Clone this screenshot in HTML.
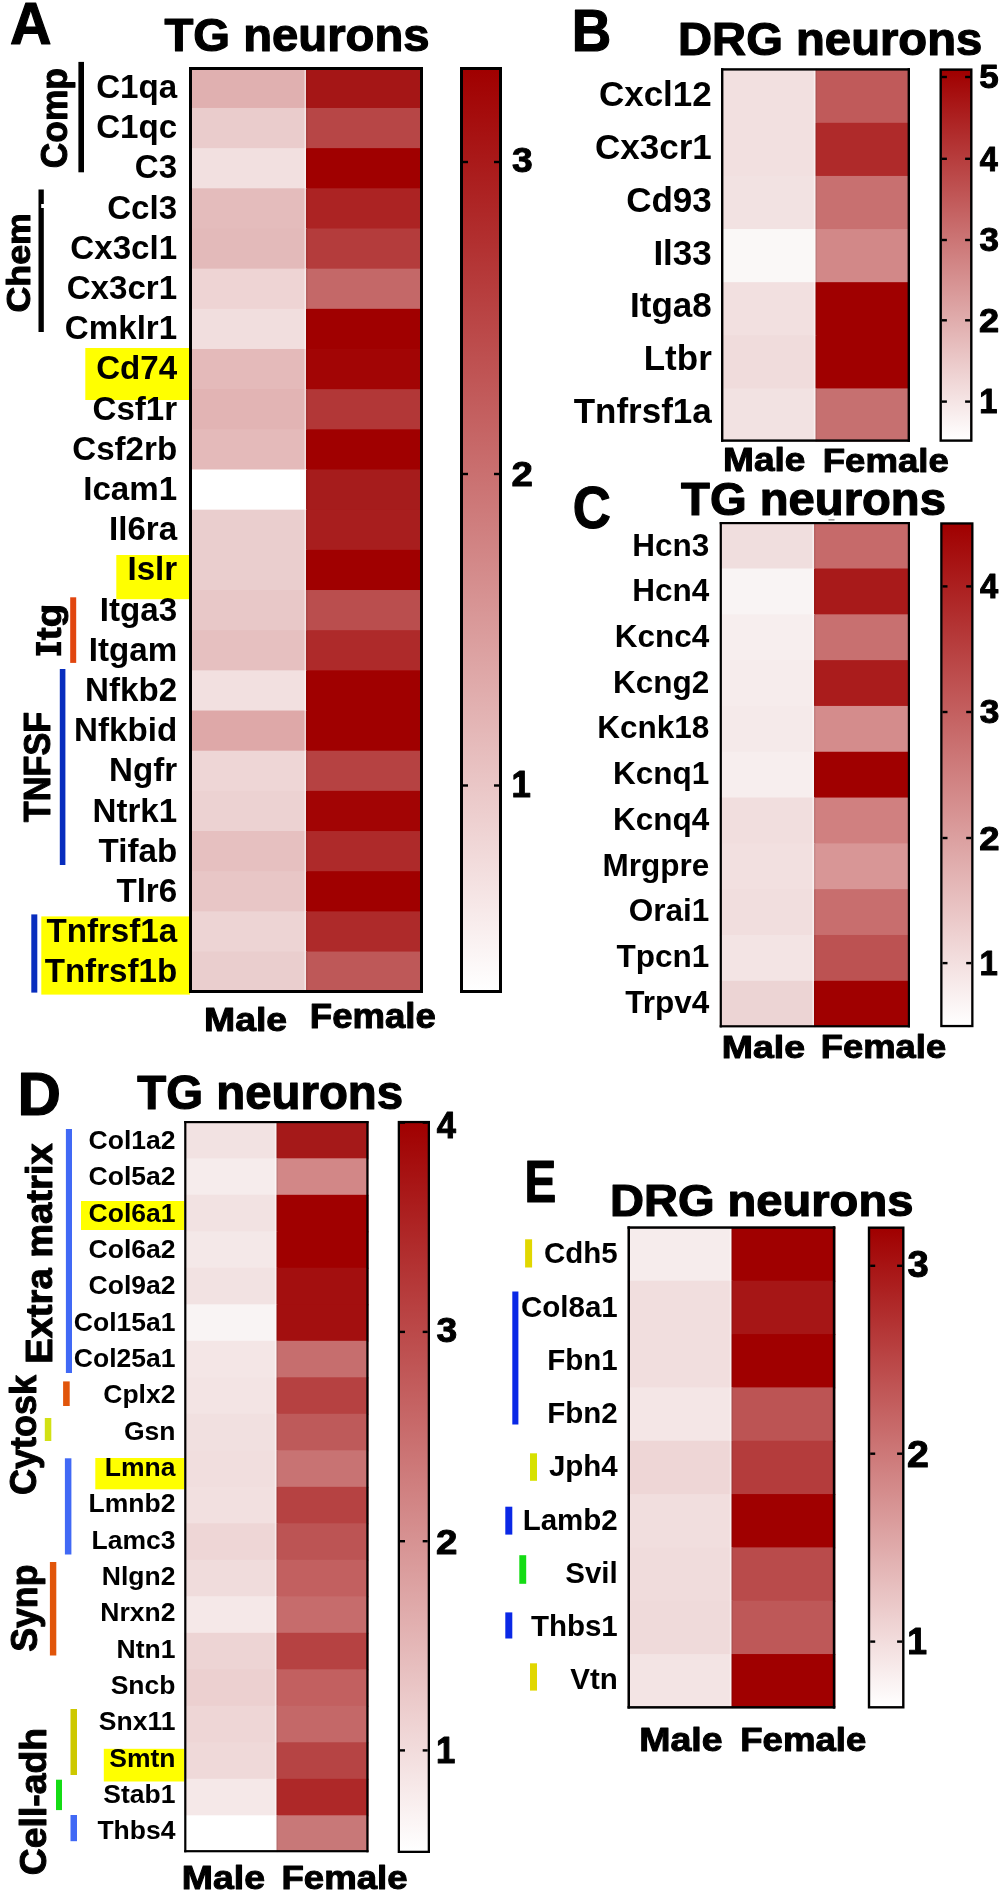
<!DOCTYPE html>
<html><head><meta charset="utf-8"><style>
html,body{margin:0;padding:0;background:#fff;}
body{width:1003px;height:1894px;overflow:hidden;}
svg{display:block;}
text{font-family:"Liberation Sans",sans-serif;font-weight:bold;}
</style></head><body>
<svg width="1003" height="1894" viewBox="0 0 1003 1894" font-family="Liberation Sans, sans-serif" font-weight="bold">
<rect x="0.00" y="0.00" width="1003.00" height="1894.00" fill="#fff"/>
<rect x="85.30" y="348.00" width="104.70" height="52.00" fill="#ffff00"/>
<rect x="116.30" y="555.00" width="73.70" height="44.20" fill="#ffff00"/>
<rect x="41.30" y="916.40" width="148.70" height="78.20" fill="#ffff00"/>
<rect x="189.00" y="67.80" width="118.00" height="41.17" fill="rgb(224,176,176)"/>
<rect x="306.00" y="67.80" width="117.00" height="41.17" fill="rgb(165,22,22)"/>
<rect x="189.00" y="107.97" width="118.00" height="41.17" fill="rgb(234,204,204)"/>
<rect x="306.00" y="107.97" width="117.00" height="41.17" fill="rgb(183,70,70)"/>
<rect x="189.00" y="148.14" width="118.00" height="41.17" fill="rgb(242,224,224)"/>
<rect x="306.00" y="148.14" width="117.00" height="41.17" fill="rgb(160,0,0)"/>
<rect x="189.00" y="188.31" width="118.00" height="41.17" fill="rgb(228,188,188)"/>
<rect x="306.00" y="188.31" width="117.00" height="41.17" fill="rgb(172,35,35)"/>
<rect x="189.00" y="228.48" width="118.00" height="41.17" fill="rgb(227,186,186)"/>
<rect x="306.00" y="228.48" width="117.00" height="41.17" fill="rgb(180,60,60)"/>
<rect x="189.00" y="268.65" width="118.00" height="41.17" fill="rgb(238,212,212)"/>
<rect x="306.00" y="268.65" width="117.00" height="41.17" fill="rgb(196,104,104)"/>
<rect x="189.00" y="308.82" width="118.00" height="41.17" fill="rgb(241,222,222)"/>
<rect x="306.00" y="308.82" width="117.00" height="41.17" fill="rgb(160,0,0)"/>
<rect x="189.00" y="348.99" width="118.00" height="41.17" fill="rgb(228,186,186)"/>
<rect x="306.00" y="348.99" width="117.00" height="41.17" fill="rgb(162,5,5)"/>
<rect x="189.00" y="389.16" width="118.00" height="41.17" fill="rgb(226,180,180)"/>
<rect x="306.00" y="389.16" width="117.00" height="41.17" fill="rgb(178,55,55)"/>
<rect x="189.00" y="429.33" width="118.00" height="41.17" fill="rgb(228,186,186)"/>
<rect x="306.00" y="429.33" width="117.00" height="41.17" fill="rgb(160,0,0)"/>
<rect x="189.00" y="469.50" width="118.00" height="41.17" fill="rgb(255,255,255)"/>
<rect x="306.00" y="469.50" width="117.00" height="41.17" fill="rgb(166,28,28)"/>
<rect x="189.00" y="509.67" width="118.00" height="41.17" fill="rgb(234,206,206)"/>
<rect x="306.00" y="509.67" width="117.00" height="41.17" fill="rgb(168,30,30)"/>
<rect x="189.00" y="549.84" width="118.00" height="41.17" fill="rgb(234,206,206)"/>
<rect x="306.00" y="549.84" width="117.00" height="41.17" fill="rgb(160,0,0)"/>
<rect x="189.00" y="590.01" width="118.00" height="41.17" fill="rgb(232,200,200)"/>
<rect x="306.00" y="590.01" width="117.00" height="41.17" fill="rgb(186,78,78)"/>
<rect x="189.00" y="630.18" width="118.00" height="41.17" fill="rgb(230,192,192)"/>
<rect x="306.00" y="630.18" width="117.00" height="41.17" fill="rgb(174,42,42)"/>
<rect x="189.00" y="670.35" width="118.00" height="41.17" fill="rgb(242,224,224)"/>
<rect x="306.00" y="670.35" width="117.00" height="41.17" fill="rgb(160,0,0)"/>
<rect x="189.00" y="710.52" width="118.00" height="41.17" fill="rgb(222,168,168)"/>
<rect x="306.00" y="710.52" width="117.00" height="41.17" fill="rgb(160,0,0)"/>
<rect x="189.00" y="750.69" width="118.00" height="41.17" fill="rgb(238,214,214)"/>
<rect x="306.00" y="750.69" width="117.00" height="41.17" fill="rgb(182,66,66)"/>
<rect x="189.00" y="790.86" width="118.00" height="41.17" fill="rgb(236,210,210)"/>
<rect x="306.00" y="790.86" width="117.00" height="41.17" fill="rgb(162,4,4)"/>
<rect x="189.00" y="831.03" width="118.00" height="41.17" fill="rgb(230,192,192)"/>
<rect x="306.00" y="831.03" width="117.00" height="41.17" fill="rgb(174,42,42)"/>
<rect x="189.00" y="871.20" width="118.00" height="41.17" fill="rgb(232,198,198)"/>
<rect x="306.00" y="871.20" width="117.00" height="41.17" fill="rgb(160,0,0)"/>
<rect x="189.00" y="911.37" width="118.00" height="41.17" fill="rgb(237,212,212)"/>
<rect x="306.00" y="911.37" width="117.00" height="41.17" fill="rgb(174,42,42)"/>
<rect x="189.00" y="951.54" width="118.00" height="40.17" fill="rgb(234,206,206)"/>
<rect x="306.00" y="951.54" width="117.00" height="40.17" fill="rgb(190,88,88)"/>
<rect x="304.40" y="67.00" width="1.6" height="926.00" fill="#fff" opacity="0.5"/>
<rect x="306.00" y="67.00" width="1.6" height="926.00" fill="#000" opacity="0.07"/>
<rect x="189.00" y="67.00" width="234.00" height="3.00" fill="#000"/>
<rect x="189.00" y="990.00" width="234.00" height="3.00" fill="#000"/>
<rect x="189.00" y="67.00" width="3.00" height="926.00" fill="#000"/>
<rect x="420.00" y="67.00" width="3.00" height="926.00" fill="#000"/>
<defs><linearGradient id="g1" x1="0" y1="0" x2="0" y2="1"><stop offset="0" stop-color="rgb(160,0,0)"/><stop offset="1" stop-color="rgb(255,255,255)"/></linearGradient></defs>
<rect x="460.00" y="67.00" width="42.00" height="926.00" fill="#000"/>
<rect x="463.00" y="70.00" width="36.00" height="920.00" fill="url(#g1)"/>
<rect x="463.00" y="160.80" width="5.00" height="2.40" fill="#000"/>
<rect x="494.00" y="160.80" width="5.00" height="2.40" fill="#000"/>
<rect x="463.00" y="472.80" width="5.00" height="2.40" fill="#000"/>
<rect x="494.00" y="472.80" width="5.00" height="2.40" fill="#000"/>
<rect x="463.00" y="784.30" width="5.00" height="2.40" fill="#000"/>
<rect x="494.00" y="784.30" width="5.00" height="2.40" fill="#000"/>
<rect x="78.40" y="61.90" width="5.60" height="110.40" fill="#000"/>
<rect x="38.50" y="189.50" width="5.30" height="142.50" fill="#000"/>
<rect x="41.20" y="204.00" width="2.80" height="4.00" fill="#fff"/>
<rect x="70.20" y="597.30" width="6.00" height="65.60" fill="rgb(225,70,15)"/>
<rect x="59.80" y="669.00" width="5.60" height="196.00" fill="rgb(8,45,190)"/>
<rect x="31.30" y="914.40" width="6.00" height="78.20" fill="rgb(8,45,190)"/>
<rect x="35.90" y="642.00" width="4.50" height="13.60" fill="#000"/>
<rect x="56.70" y="642.00" width="4.50" height="13.60" fill="#000"/>
<rect x="40.00" y="645.60" width="17.00" height="6.40" fill="#000"/>
<rect x="721.00" y="69.70" width="95.40" height="54.12" fill="rgb(242,224,224)"/>
<rect x="815.40" y="69.70" width="94.60" height="54.12" fill="rgb(192,90,90)"/>
<rect x="721.00" y="122.82" width="95.40" height="54.12" fill="rgb(242,224,224)"/>
<rect x="815.40" y="122.82" width="94.60" height="54.12" fill="rgb(175,42,42)"/>
<rect x="721.00" y="175.94" width="95.40" height="54.12" fill="rgb(242,226,226)"/>
<rect x="815.40" y="175.94" width="94.60" height="54.12" fill="rgb(200,112,112)"/>
<rect x="721.00" y="229.06" width="95.40" height="54.12" fill="rgb(250,248,247)"/>
<rect x="815.40" y="229.06" width="94.60" height="54.12" fill="rgb(210,136,136)"/>
<rect x="721.00" y="282.18" width="95.40" height="54.12" fill="rgb(242,224,224)"/>
<rect x="815.40" y="282.18" width="94.60" height="54.12" fill="rgb(160,0,0)"/>
<rect x="721.00" y="335.30" width="95.40" height="54.12" fill="rgb(240,220,220)"/>
<rect x="815.40" y="335.30" width="94.60" height="54.12" fill="rgb(160,0,0)"/>
<rect x="721.00" y="388.42" width="95.40" height="53.12" fill="rgb(242,226,226)"/>
<rect x="815.40" y="388.42" width="94.60" height="53.12" fill="rgb(198,112,112)"/>
<rect x="813.80" y="68.20" width="1.6" height="373.60" fill="#fff" opacity="0.5"/>
<rect x="815.40" y="68.20" width="1.6" height="373.60" fill="#000" opacity="0.07"/>
<rect x="721.00" y="68.20" width="189.00" height="2.40" fill="#000"/>
<rect x="721.00" y="439.40" width="189.00" height="2.40" fill="#000"/>
<rect x="721.00" y="68.20" width="2.40" height="373.60" fill="#000"/>
<rect x="907.60" y="68.20" width="2.40" height="373.60" fill="#000"/>
<defs><linearGradient id="g2" x1="0" y1="0" x2="0" y2="1"><stop offset="0" stop-color="rgb(160,0,0)"/><stop offset="1" stop-color="rgb(255,255,255)"/></linearGradient></defs>
<rect x="939.50" y="68.40" width="33.00" height="373.40" fill="#000"/>
<rect x="941.90" y="70.80" width="28.20" height="368.60" fill="url(#g2)"/>
<rect x="941.90" y="75.80" width="5.00" height="2.40" fill="#000"/>
<rect x="965.10" y="75.80" width="5.00" height="2.40" fill="#000"/>
<rect x="941.90" y="157.60" width="5.00" height="2.40" fill="#000"/>
<rect x="965.10" y="157.60" width="5.00" height="2.40" fill="#000"/>
<rect x="941.90" y="238.80" width="5.00" height="2.40" fill="#000"/>
<rect x="965.10" y="238.80" width="5.00" height="2.40" fill="#000"/>
<rect x="941.90" y="319.10" width="5.00" height="2.40" fill="#000"/>
<rect x="965.10" y="319.10" width="5.00" height="2.40" fill="#000"/>
<rect x="941.90" y="400.40" width="5.00" height="2.40" fill="#000"/>
<rect x="965.10" y="400.40" width="5.00" height="2.40" fill="#000"/>
<rect x="719.70" y="522.70" width="95.30" height="46.81" fill="rgb(240,222,222)"/>
<rect x="814.00" y="522.70" width="96.00" height="46.81" fill="rgb(198,106,106)"/>
<rect x="719.70" y="568.51" width="95.30" height="46.81" fill="rgb(249,244,244)"/>
<rect x="814.00" y="568.51" width="96.00" height="46.81" fill="rgb(168,26,26)"/>
<rect x="719.70" y="614.32" width="95.30" height="46.81" fill="rgb(247,238,238)"/>
<rect x="814.00" y="614.32" width="96.00" height="46.81" fill="rgb(200,112,112)"/>
<rect x="719.70" y="660.13" width="95.30" height="46.81" fill="rgb(246,236,236)"/>
<rect x="814.00" y="660.13" width="96.00" height="46.81" fill="rgb(170,28,28)"/>
<rect x="719.70" y="705.94" width="95.30" height="46.81" fill="rgb(245,234,234)"/>
<rect x="814.00" y="705.94" width="96.00" height="46.81" fill="rgb(212,140,140)"/>
<rect x="719.70" y="751.75" width="95.30" height="46.81" fill="rgb(247,238,238)"/>
<rect x="814.00" y="751.75" width="96.00" height="46.81" fill="rgb(160,0,0)"/>
<rect x="719.70" y="797.56" width="95.30" height="46.81" fill="rgb(241,222,222)"/>
<rect x="814.00" y="797.56" width="96.00" height="46.81" fill="rgb(208,128,128)"/>
<rect x="719.70" y="843.37" width="95.30" height="46.81" fill="rgb(242,224,224)"/>
<rect x="814.00" y="843.37" width="96.00" height="46.81" fill="rgb(216,150,150)"/>
<rect x="719.70" y="889.18" width="95.30" height="46.81" fill="rgb(241,222,222)"/>
<rect x="814.00" y="889.18" width="96.00" height="46.81" fill="rgb(200,110,110)"/>
<rect x="719.70" y="934.99" width="95.30" height="46.81" fill="rgb(243,228,228)"/>
<rect x="814.00" y="934.99" width="96.00" height="46.81" fill="rgb(188,82,82)"/>
<rect x="719.70" y="980.80" width="95.30" height="45.81" fill="rgb(236,212,212)"/>
<rect x="814.00" y="980.80" width="96.00" height="45.81" fill="rgb(160,0,0)"/>
<rect x="812.40" y="522.00" width="1.6" height="505.40" fill="#fff" opacity="0.5"/>
<rect x="814.00" y="522.00" width="1.6" height="505.40" fill="#000" opacity="0.07"/>
<rect x="719.70" y="522.00" width="190.30" height="2.20" fill="#000"/>
<rect x="719.70" y="1025.20" width="190.30" height="2.20" fill="#000"/>
<rect x="719.70" y="522.00" width="2.20" height="505.40" fill="#000"/>
<rect x="907.80" y="522.00" width="2.20" height="505.40" fill="#000"/>
<defs><linearGradient id="g3" x1="0" y1="0" x2="0" y2="1"><stop offset="0" stop-color="rgb(160,0,0)"/><stop offset="1" stop-color="rgb(255,255,255)"/></linearGradient></defs>
<rect x="940.20" y="522.30" width="33.30" height="504.90" fill="#000"/>
<rect x="942.50" y="524.60" width="28.70" height="500.30" fill="url(#g3)"/>
<rect x="942.50" y="585.20" width="5.00" height="2.40" fill="#000"/>
<rect x="966.20" y="585.20" width="5.00" height="2.40" fill="#000"/>
<rect x="942.50" y="710.80" width="5.00" height="2.40" fill="#000"/>
<rect x="966.20" y="710.80" width="5.00" height="2.40" fill="#000"/>
<rect x="942.50" y="836.80" width="5.00" height="2.40" fill="#000"/>
<rect x="966.20" y="836.80" width="5.00" height="2.40" fill="#000"/>
<rect x="942.50" y="961.90" width="5.00" height="2.40" fill="#000"/>
<rect x="966.20" y="961.90" width="5.00" height="2.40" fill="#000"/>
<rect x="828.50" y="519.00" width="6.00" height="1.60" fill="rgb(150,150,150)"/>
<rect x="81.00" y="1201.00" width="104.00" height="29.00" fill="#ffff00"/>
<rect x="95.30" y="1458.00" width="89.70" height="31.30" fill="#ffff00"/>
<rect x="103.80" y="1748.80" width="81.20" height="32.70" fill="#ffff00"/>
<rect x="184.20" y="1121.80" width="93.20" height="37.50" fill="rgb(242,226,226)"/>
<rect x="276.40" y="1121.80" width="92.10" height="37.50" fill="rgb(165,25,25)"/>
<rect x="184.20" y="1158.30" width="93.20" height="37.50" fill="rgb(246,236,236)"/>
<rect x="276.40" y="1158.30" width="92.10" height="37.50" fill="rgb(210,135,135)"/>
<rect x="184.20" y="1194.80" width="93.20" height="37.50" fill="rgb(242,226,226)"/>
<rect x="276.40" y="1194.80" width="92.10" height="37.50" fill="rgb(160,0,0)"/>
<rect x="184.20" y="1231.30" width="93.20" height="37.50" fill="rgb(244,232,232)"/>
<rect x="276.40" y="1231.30" width="92.10" height="37.50" fill="rgb(160,0,0)"/>
<rect x="184.20" y="1267.80" width="93.20" height="37.50" fill="rgb(242,226,226)"/>
<rect x="276.40" y="1267.80" width="92.10" height="37.50" fill="rgb(163,15,15)"/>
<rect x="184.20" y="1304.30" width="93.20" height="37.50" fill="rgb(249,244,244)"/>
<rect x="276.40" y="1304.30" width="92.10" height="37.50" fill="rgb(163,15,15)"/>
<rect x="184.20" y="1340.80" width="93.20" height="37.50" fill="rgb(244,230,230)"/>
<rect x="276.40" y="1340.80" width="92.10" height="37.50" fill="rgb(198,110,110)"/>
<rect x="184.20" y="1377.30" width="93.20" height="37.50" fill="rgb(243,228,228)"/>
<rect x="276.40" y="1377.30" width="92.10" height="37.50" fill="rgb(182,65,65)"/>
<rect x="184.20" y="1413.80" width="93.20" height="37.50" fill="rgb(241,224,224)"/>
<rect x="276.40" y="1413.80" width="92.10" height="37.50" fill="rgb(190,90,90)"/>
<rect x="184.20" y="1450.30" width="93.20" height="37.50" fill="rgb(241,222,222)"/>
<rect x="276.40" y="1450.30" width="92.10" height="37.50" fill="rgb(200,115,115)"/>
<rect x="184.20" y="1486.80" width="93.20" height="37.50" fill="rgb(242,224,224)"/>
<rect x="276.40" y="1486.80" width="92.10" height="37.50" fill="rgb(182,66,66)"/>
<rect x="184.20" y="1523.30" width="93.20" height="37.50" fill="rgb(238,214,214)"/>
<rect x="276.40" y="1523.30" width="92.10" height="37.50" fill="rgb(188,84,84)"/>
<rect x="184.20" y="1559.80" width="93.20" height="37.50" fill="rgb(240,220,220)"/>
<rect x="276.40" y="1559.80" width="92.10" height="37.50" fill="rgb(194,96,96)"/>
<rect x="184.20" y="1596.30" width="93.20" height="37.50" fill="rgb(245,232,232)"/>
<rect x="276.40" y="1596.30" width="92.10" height="37.50" fill="rgb(198,108,108)"/>
<rect x="184.20" y="1632.80" width="93.20" height="37.50" fill="rgb(237,212,212)"/>
<rect x="276.40" y="1632.80" width="92.10" height="37.50" fill="rgb(182,66,66)"/>
<rect x="184.20" y="1669.30" width="93.20" height="37.50" fill="rgb(236,208,208)"/>
<rect x="276.40" y="1669.30" width="92.10" height="37.50" fill="rgb(194,96,96)"/>
<rect x="184.20" y="1705.80" width="93.20" height="37.50" fill="rgb(238,214,214)"/>
<rect x="276.40" y="1705.80" width="92.10" height="37.50" fill="rgb(196,104,104)"/>
<rect x="184.20" y="1742.30" width="93.20" height="37.50" fill="rgb(239,217,217)"/>
<rect x="276.40" y="1742.30" width="92.10" height="37.50" fill="rgb(182,68,68)"/>
<rect x="184.20" y="1778.80" width="93.20" height="37.50" fill="rgb(245,232,232)"/>
<rect x="276.40" y="1778.80" width="92.10" height="37.50" fill="rgb(174,40,40)"/>
<rect x="184.20" y="1815.30" width="93.20" height="36.50" fill="rgb(255,255,255)"/>
<rect x="276.40" y="1815.30" width="92.10" height="36.50" fill="rgb(200,120,120)"/>
<rect x="274.80" y="1121.00" width="1.6" height="731.30" fill="#fff" opacity="0.5"/>
<rect x="276.40" y="1121.00" width="1.6" height="731.30" fill="#000" opacity="0.07"/>
<rect x="184.20" y="1121.00" width="184.30" height="2.20" fill="#000"/>
<rect x="184.20" y="1850.10" width="184.30" height="2.20" fill="#000"/>
<rect x="184.20" y="1121.00" width="2.20" height="731.30" fill="#000"/>
<rect x="366.30" y="1121.00" width="2.20" height="731.30" fill="#000"/>
<defs><linearGradient id="g4" x1="0" y1="0" x2="0" y2="1"><stop offset="0" stop-color="rgb(160,0,0)"/><stop offset="1" stop-color="rgb(255,255,255)"/></linearGradient></defs>
<rect x="397.70" y="1120.90" width="32.30" height="732.10" fill="#000"/>
<rect x="400.00" y="1123.20" width="27.70" height="727.50" fill="url(#g4)"/>
<rect x="400.00" y="1121.40" width="5.00" height="2.40" fill="#000"/>
<rect x="422.70" y="1121.40" width="5.00" height="2.40" fill="#000"/>
<rect x="400.00" y="1330.70" width="5.00" height="2.40" fill="#000"/>
<rect x="422.70" y="1330.70" width="5.00" height="2.40" fill="#000"/>
<rect x="400.00" y="1540.00" width="5.00" height="2.40" fill="#000"/>
<rect x="422.70" y="1540.00" width="5.00" height="2.40" fill="#000"/>
<rect x="400.00" y="1749.20" width="5.00" height="2.40" fill="#000"/>
<rect x="422.70" y="1749.20" width="5.00" height="2.40" fill="#000"/>
<rect x="65.90" y="1129.00" width="6.10" height="244.00" fill="rgb(65,105,245)"/>
<rect x="63.10" y="1381.40" width="6.60" height="24.60" fill="rgb(225,85,10)"/>
<rect x="44.80" y="1418.00" width="6.50" height="23.00" fill="rgb(210,225,20)"/>
<rect x="64.90" y="1458.30" width="6.50" height="96.20" fill="rgb(65,105,245)"/>
<rect x="49.90" y="1562.00" width="6.40" height="93.50" fill="rgb(225,85,10)"/>
<rect x="70.50" y="1709.00" width="6.50" height="66.00" fill="rgb(205,200,0)"/>
<rect x="56.00" y="1779.70" width="6.00" height="30.40" fill="rgb(20,220,20)"/>
<rect x="70.50" y="1815.00" width="6.50" height="26.20" fill="rgb(65,105,245)"/>
<rect x="627.50" y="1227.40" width="104.90" height="54.33" fill="rgb(246,236,236)"/>
<rect x="731.40" y="1227.40" width="103.90" height="54.33" fill="rgb(160,0,0)"/>
<rect x="627.50" y="1280.73" width="104.90" height="54.33" fill="rgb(241,222,222)"/>
<rect x="731.40" y="1280.73" width="103.90" height="54.33" fill="rgb(166,22,22)"/>
<rect x="627.50" y="1334.06" width="104.90" height="54.33" fill="rgb(241,222,222)"/>
<rect x="731.40" y="1334.06" width="103.90" height="54.33" fill="rgb(160,0,0)"/>
<rect x="627.50" y="1387.39" width="104.90" height="54.33" fill="rgb(244,230,230)"/>
<rect x="731.40" y="1387.39" width="103.90" height="54.33" fill="rgb(188,84,84)"/>
<rect x="627.50" y="1440.72" width="104.90" height="54.33" fill="rgb(238,214,214)"/>
<rect x="731.40" y="1440.72" width="103.90" height="54.33" fill="rgb(180,60,60)"/>
<rect x="627.50" y="1494.05" width="104.90" height="54.33" fill="rgb(241,222,222)"/>
<rect x="731.40" y="1494.05" width="103.90" height="54.33" fill="rgb(160,0,0)"/>
<rect x="627.50" y="1547.38" width="104.90" height="54.33" fill="rgb(240,220,220)"/>
<rect x="731.40" y="1547.38" width="103.90" height="54.33" fill="rgb(185,75,75)"/>
<rect x="627.50" y="1600.71" width="104.90" height="54.33" fill="rgb(239,218,218)"/>
<rect x="731.40" y="1600.71" width="103.90" height="54.33" fill="rgb(190,88,88)"/>
<rect x="627.50" y="1654.04" width="104.90" height="53.33" fill="rgb(243,228,228)"/>
<rect x="731.40" y="1654.04" width="103.90" height="53.33" fill="rgb(160,0,0)"/>
<rect x="729.80" y="1226.30" width="1.6" height="482.30" fill="#fff" opacity="0.5"/>
<rect x="731.40" y="1226.30" width="1.6" height="482.30" fill="#000" opacity="0.07"/>
<rect x="627.50" y="1226.30" width="207.80" height="2.50" fill="#000"/>
<rect x="627.50" y="1706.10" width="207.80" height="2.50" fill="#000"/>
<rect x="627.50" y="1226.30" width="2.50" height="482.30" fill="#000"/>
<rect x="832.80" y="1226.30" width="2.50" height="482.30" fill="#000"/>
<defs><linearGradient id="g5" x1="0" y1="0" x2="0" y2="1"><stop offset="0" stop-color="rgb(160,0,0)"/><stop offset="1" stop-color="rgb(255,255,255)"/></linearGradient></defs>
<rect x="867.80" y="1226.50" width="36.70" height="482.00" fill="#000"/>
<rect x="870.20" y="1228.90" width="31.90" height="477.20" fill="url(#g5)"/>
<rect x="870.20" y="1264.60" width="5.00" height="2.40" fill="#000"/>
<rect x="897.10" y="1264.60" width="5.00" height="2.40" fill="#000"/>
<rect x="870.20" y="1452.50" width="5.00" height="2.40" fill="#000"/>
<rect x="897.10" y="1452.50" width="5.00" height="2.40" fill="#000"/>
<rect x="870.20" y="1640.40" width="5.00" height="2.40" fill="#000"/>
<rect x="897.10" y="1640.40" width="5.00" height="2.40" fill="#000"/>
<rect x="525.10" y="1239.30" width="7.00" height="28.20" fill="rgb(225,215,0)"/>
<rect x="512.30" y="1291.50" width="6.10" height="133.00" fill="rgb(10,40,230)"/>
<rect x="530.00" y="1453.30" width="7.00" height="27.50" fill="rgb(215,225,0)"/>
<rect x="505.30" y="1506.70" width="7.00" height="27.90" fill="rgb(10,40,230)"/>
<rect x="519.30" y="1555.20" width="6.90" height="28.60" fill="rgb(20,220,20)"/>
<rect x="505.30" y="1612.40" width="7.00" height="26.10" fill="rgb(10,40,230)"/>
<rect x="530.00" y="1663.30" width="7.00" height="27.30" fill="rgb(225,215,0)"/>
<g style="filter:grayscale(1)">
<text x="511.94" y="172.11" font-size="35.26" stroke="#000" stroke-width="1.0" stroke-linejoin="round" textLength="20.70" lengthAdjust="spacingAndGlyphs">3</text>
<text x="511.45" y="486.00" font-size="35.82" stroke="#000" stroke-width="1.0" stroke-linejoin="round" textLength="21.39" lengthAdjust="spacingAndGlyphs">2</text>
<text x="511.61" y="797.00" font-size="36.34" stroke="#000" stroke-width="1.0" stroke-linejoin="round" textLength="19.33" lengthAdjust="spacingAndGlyphs">1</text>
<text transform="translate(177.18,98.00) scale(0.975,1)" font-size="34.00" text-anchor="end">C1qa</text>
<text transform="translate(177.18,138.20) scale(0.975,1)" font-size="34.00" text-anchor="end">C1qc</text>
<text transform="translate(177.18,178.40) scale(0.975,1)" font-size="34.00" text-anchor="end">C3</text>
<text transform="translate(177.18,218.60) scale(0.975,1)" font-size="34.00" text-anchor="end">Ccl3</text>
<text transform="translate(177.18,258.80) scale(0.975,1)" font-size="34.00" text-anchor="end">Cx3cl1</text>
<text transform="translate(177.18,299.00) scale(0.975,1)" font-size="34.00" text-anchor="end">Cx3cr1</text>
<text transform="translate(177.18,339.20) scale(0.975,1)" font-size="34.00" text-anchor="end">Cmklr1</text>
<text transform="translate(177.18,379.40) scale(0.975,1)" font-size="34.00" text-anchor="end">Cd74</text>
<text transform="translate(177.18,419.60) scale(0.975,1)" font-size="34.00" text-anchor="end">Csf1r</text>
<text transform="translate(177.18,459.80) scale(0.975,1)" font-size="34.00" text-anchor="end">Csf2rb</text>
<text transform="translate(177.18,500.00) scale(0.975,1)" font-size="34.00" text-anchor="end">Icam1</text>
<text transform="translate(177.18,540.20) scale(0.975,1)" font-size="34.00" text-anchor="end">Il6ra</text>
<text transform="translate(177.18,580.40) scale(0.975,1)" font-size="34.00" text-anchor="end">Islr</text>
<text transform="translate(177.18,620.60) scale(0.975,1)" font-size="34.00" text-anchor="end">Itga3</text>
<text transform="translate(177.18,660.80) scale(0.975,1)" font-size="34.00" text-anchor="end">Itgam</text>
<text transform="translate(177.18,701.00) scale(0.975,1)" font-size="34.00" text-anchor="end">Nfkb2</text>
<text transform="translate(177.18,741.20) scale(0.975,1)" font-size="34.00" text-anchor="end">Nfkbid</text>
<text transform="translate(177.18,781.40) scale(0.975,1)" font-size="34.00" text-anchor="end">Ngfr</text>
<text transform="translate(177.18,821.60) scale(0.975,1)" font-size="34.00" text-anchor="end">Ntrk1</text>
<text transform="translate(177.18,861.80) scale(0.975,1)" font-size="34.00" text-anchor="end">Tifab</text>
<text transform="translate(177.18,902.00) scale(0.975,1)" font-size="34.00" text-anchor="end">Tlr6</text>
<text transform="translate(177.18,942.20) scale(0.975,1)" font-size="34.00" text-anchor="end">Tnfrsf1a</text>
<text transform="translate(177.18,982.40) scale(0.975,1)" font-size="34.00" text-anchor="end">Tnfrsf1b</text>
<text x="9.96" y="44.10" font-size="59.16" stroke="#000" stroke-width="1.2" stroke-linejoin="round" textLength="41.54" lengthAdjust="spacingAndGlyphs">A</text>
<text x="164.48" y="50.90" font-size="46.22" stroke="#000" stroke-width="1.2" stroke-linejoin="round" textLength="265.07" lengthAdjust="spacingAndGlyphs">TG neurons</text>
<text x="203.99" y="1031.00" font-size="33.79" stroke="#000" stroke-width="1.0" stroke-linejoin="round" textLength="83.19" lengthAdjust="spacingAndGlyphs">Male</text>
<text x="309.85" y="1027.90" font-size="34.48" stroke="#000" stroke-width="1.0" stroke-linejoin="round" textLength="125.90" lengthAdjust="spacingAndGlyphs">Female</text>
<text transform="translate(67.20,168.25) rotate(-90)" font-size="36.34" textLength="100.20" lengthAdjust="spacingAndGlyphs" stroke="#000" stroke-width="1.0" stroke-linejoin="round">Comp</text>
<text transform="translate(29.90,312.47) rotate(-90)" font-size="33.93" textLength="99.40" lengthAdjust="spacingAndGlyphs" stroke="#000" stroke-width="1.0" stroke-linejoin="round">Chem</text>
<text transform="translate(60.70,640.16) rotate(-90)" font-size="35.32" textLength="36.34" lengthAdjust="spacingAndGlyphs" stroke="#000" stroke-width="1.0" stroke-linejoin="round">tg</text>
<text transform="translate(49.70,822.18) rotate(-90)" font-size="36.63" textLength="110.33" lengthAdjust="spacingAndGlyphs" stroke="#000" stroke-width="1.0" stroke-linejoin="round">TNFSF</text>
<text x="979.22" y="88.41" font-size="33.67" stroke="#000" stroke-width="1.0" stroke-linejoin="round" textLength="19.44" lengthAdjust="spacingAndGlyphs">5</text>
<text x="979.81" y="170.55" font-size="34.16" stroke="#000" stroke-width="1.0" stroke-linejoin="round" textLength="18.03" lengthAdjust="spacingAndGlyphs">4</text>
<text x="979.50" y="251.39" font-size="33.15" stroke="#000" stroke-width="1.0" stroke-linejoin="round" textLength="19.44" lengthAdjust="spacingAndGlyphs">3</text>
<text x="979.04" y="332.05" font-size="33.67" stroke="#000" stroke-width="1.0" stroke-linejoin="round" textLength="20.09" lengthAdjust="spacingAndGlyphs">2</text>
<text x="979.24" y="413.35" font-size="34.16" stroke="#000" stroke-width="1.0" stroke-linejoin="round" textLength="18.14" lengthAdjust="spacingAndGlyphs">1</text>
<text x="711.77" y="106.40" font-size="35.00" text-anchor="end">Cxcl12</text>
<text x="711.77" y="159.15" font-size="35.00" text-anchor="end">Cx3cr1</text>
<text x="711.77" y="211.90" font-size="35.00" text-anchor="end">Cd93</text>
<text x="711.77" y="264.65" font-size="35.00" text-anchor="end">Il33</text>
<text x="711.77" y="317.40" font-size="35.00" text-anchor="end">Itga8</text>
<text x="711.77" y="370.15" font-size="35.00" text-anchor="end">Ltbr</text>
<text x="711.77" y="422.90" font-size="35.00" text-anchor="end">Tnfrsf1a</text>
<text x="571.83" y="51.10" font-size="59.88" stroke="#000" stroke-width="1.2" stroke-linejoin="round" textLength="39.54" lengthAdjust="spacingAndGlyphs">B</text>
<text x="677.94" y="54.80" font-size="46.22" stroke="#000" stroke-width="1.2" stroke-linejoin="round" textLength="304.39" lengthAdjust="spacingAndGlyphs">DRG neurons</text>
<text x="723.02" y="470.60" font-size="33.10" stroke="#000" stroke-width="1.0" stroke-linejoin="round" textLength="82.45" lengthAdjust="spacingAndGlyphs">Male</text>
<text x="822.75" y="472.40" font-size="33.66" stroke="#000" stroke-width="1.0" stroke-linejoin="round" textLength="126.00" lengthAdjust="spacingAndGlyphs">Female</text>
<text x="980.01" y="598.25" font-size="34.45" stroke="#000" stroke-width="1.0" stroke-linejoin="round" textLength="18.18" lengthAdjust="spacingAndGlyphs">4</text>
<text x="979.69" y="723.48" font-size="33.43" stroke="#000" stroke-width="1.0" stroke-linejoin="round" textLength="19.61" lengthAdjust="spacingAndGlyphs">3</text>
<text x="979.22" y="849.85" font-size="33.95" stroke="#000" stroke-width="1.0" stroke-linejoin="round" textLength="20.26" lengthAdjust="spacingAndGlyphs">2</text>
<text x="979.43" y="974.95" font-size="34.45" stroke="#000" stroke-width="1.0" stroke-linejoin="round" textLength="18.30" lengthAdjust="spacingAndGlyphs">1</text>
<text x="709.27" y="555.60" font-size="31.50" text-anchor="end">Hcn3</text>
<text x="709.27" y="601.30" font-size="31.50" text-anchor="end">Hcn4</text>
<text x="709.27" y="647.00" font-size="31.50" text-anchor="end">Kcnc4</text>
<text x="709.27" y="692.70" font-size="31.50" text-anchor="end">Kcng2</text>
<text x="709.27" y="738.40" font-size="31.50" text-anchor="end">Kcnk18</text>
<text x="709.27" y="784.10" font-size="31.50" text-anchor="end">Kcnq1</text>
<text x="709.27" y="829.80" font-size="31.50" text-anchor="end">Kcnq4</text>
<text x="709.27" y="875.50" font-size="31.50" text-anchor="end">Mrgpre</text>
<text x="709.27" y="921.20" font-size="31.50" text-anchor="end">Orai1</text>
<text x="709.27" y="966.90" font-size="31.50" text-anchor="end">Tpcn1</text>
<text x="709.27" y="1012.60" font-size="31.50" text-anchor="end">Trpv4</text>
<text x="572.84" y="527.50" font-size="60.14" stroke="#000" stroke-width="1.2" stroke-linejoin="round" textLength="38.10" lengthAdjust="spacingAndGlyphs">C</text>
<text x="681.08" y="515.10" font-size="47.09" stroke="#000" stroke-width="1.2" stroke-linejoin="round" textLength="264.87" lengthAdjust="spacingAndGlyphs">TG neurons</text>
<text x="721.69" y="1058.10" font-size="31.86" stroke="#000" stroke-width="1.0" stroke-linejoin="round" textLength="83.29" lengthAdjust="spacingAndGlyphs">Male</text>
<text x="820.76" y="1058.10" font-size="32.97" stroke="#000" stroke-width="1.0" stroke-linejoin="round" textLength="125.49" lengthAdjust="spacingAndGlyphs">Female</text>
<text x="436.78" y="1138.10" font-size="36.34" stroke="#000" stroke-width="1.0" stroke-linejoin="round" textLength="19.20" lengthAdjust="spacingAndGlyphs">4</text>
<text x="436.44" y="1342.01" font-size="35.26" stroke="#000" stroke-width="1.0" stroke-linejoin="round" textLength="20.70" lengthAdjust="spacingAndGlyphs">3</text>
<text x="435.95" y="1553.70" font-size="35.82" stroke="#000" stroke-width="1.0" stroke-linejoin="round" textLength="21.39" lengthAdjust="spacingAndGlyphs">2</text>
<text x="436.11" y="1762.90" font-size="36.34" stroke="#000" stroke-width="1.0" stroke-linejoin="round" textLength="19.33" lengthAdjust="spacingAndGlyphs">1</text>
<text x="175.47" y="1148.80" font-size="26.50" text-anchor="end">Col1a2</text>
<text x="175.47" y="1185.15" font-size="26.50" text-anchor="end">Col5a2</text>
<text x="175.47" y="1221.50" font-size="26.50" text-anchor="end">Col6a1</text>
<text x="175.47" y="1257.85" font-size="26.50" text-anchor="end">Col6a2</text>
<text x="175.47" y="1294.20" font-size="26.50" text-anchor="end">Col9a2</text>
<text x="175.47" y="1330.55" font-size="26.50" text-anchor="end">Col15a1</text>
<text x="175.47" y="1366.90" font-size="26.50" text-anchor="end">Col25a1</text>
<text x="175.47" y="1403.25" font-size="26.50" text-anchor="end">Cplx2</text>
<text x="175.47" y="1439.60" font-size="26.50" text-anchor="end">Gsn</text>
<text x="175.47" y="1475.95" font-size="26.50" text-anchor="end">Lmna</text>
<text x="175.47" y="1512.30" font-size="26.50" text-anchor="end">Lmnb2</text>
<text x="175.47" y="1548.65" font-size="26.50" text-anchor="end">Lamc3</text>
<text x="175.47" y="1585.00" font-size="26.50" text-anchor="end">Nlgn2</text>
<text x="175.47" y="1621.35" font-size="26.50" text-anchor="end">Nrxn2</text>
<text x="175.47" y="1657.70" font-size="26.50" text-anchor="end">Ntn1</text>
<text x="175.47" y="1694.05" font-size="26.50" text-anchor="end">Sncb</text>
<text x="175.47" y="1730.40" font-size="26.50" text-anchor="end">Snx11</text>
<text x="175.47" y="1766.75" font-size="26.50" text-anchor="end">Smtn</text>
<text x="175.47" y="1803.10" font-size="26.50" text-anchor="end">Stab1</text>
<text x="175.47" y="1839.45" font-size="26.50" text-anchor="end">Thbs4</text>
<text x="17.47" y="1114.80" font-size="60.17" stroke="#000" stroke-width="1.2" stroke-linejoin="round" textLength="43.47" lengthAdjust="spacingAndGlyphs">D</text>
<text x="137.28" y="1109.20" font-size="47.38" stroke="#000" stroke-width="1.2" stroke-linejoin="round" textLength="265.88" lengthAdjust="spacingAndGlyphs">TG neurons</text>
<text x="181.69" y="1888.90" font-size="32.97" stroke="#000" stroke-width="1.0" stroke-linejoin="round" textLength="83.29" lengthAdjust="spacingAndGlyphs">Male</text>
<text x="281.45" y="1888.90" font-size="32.97" stroke="#000" stroke-width="1.0" stroke-linejoin="round" textLength="126.11" lengthAdjust="spacingAndGlyphs">Female</text>
<text transform="translate(52.30,1363.75) rotate(-90)" font-size="36.05" textLength="220.35" lengthAdjust="spacingAndGlyphs" stroke="#000" stroke-width="1.0" stroke-linejoin="round">Extra matrix</text>
<text transform="translate(35.50,1494.98) rotate(-90)" font-size="36.55" textLength="120.06" lengthAdjust="spacingAndGlyphs" stroke="#000" stroke-width="1.0" stroke-linejoin="round">Cytosk</text>
<text transform="translate(37.30,1651.84) rotate(-90)" font-size="37.06" textLength="87.29" lengthAdjust="spacingAndGlyphs" stroke="#000" stroke-width="1.0" stroke-linejoin="round">Synp</text>
<text transform="translate(45.70,1875.23) rotate(-90)" font-size="37.52" textLength="147.34" lengthAdjust="spacingAndGlyphs" stroke="#000" stroke-width="1.0" stroke-linejoin="round">Cell-adh</text>
<text x="907.52" y="1276.70" font-size="36.11" stroke="#000" stroke-width="1.0" stroke-linejoin="round" textLength="21.21" lengthAdjust="spacingAndGlyphs">3</text>
<text x="907.02" y="1466.50" font-size="36.68" stroke="#000" stroke-width="1.0" stroke-linejoin="round" textLength="21.91" lengthAdjust="spacingAndGlyphs">2</text>
<text x="907.16" y="1654.40" font-size="37.21" stroke="#000" stroke-width="1.0" stroke-linejoin="round" textLength="19.80" lengthAdjust="spacingAndGlyphs">1</text>
<text x="617.77" y="1263.30" font-size="29.50" text-anchor="end">Cdh5</text>
<text x="617.77" y="1316.54" font-size="29.50" text-anchor="end">Col8a1</text>
<text x="617.77" y="1369.78" font-size="29.50" text-anchor="end">Fbn1</text>
<text x="617.77" y="1423.02" font-size="29.50" text-anchor="end">Fbn2</text>
<text x="617.77" y="1476.26" font-size="29.50" text-anchor="end">Jph4</text>
<text x="617.77" y="1529.50" font-size="29.50" text-anchor="end">Lamb2</text>
<text x="617.77" y="1582.74" font-size="29.50" text-anchor="end">Svil</text>
<text x="617.77" y="1635.98" font-size="29.50" text-anchor="end">Thbs1</text>
<text x="617.77" y="1689.22" font-size="29.50" text-anchor="end">Vtn</text>
<text x="524.51" y="1202.40" font-size="59.01" stroke="#000" stroke-width="1.2" stroke-linejoin="round" textLength="31.74" lengthAdjust="spacingAndGlyphs">E</text>
<text x="609.95" y="1215.50" font-size="45.20" stroke="#000" stroke-width="1.2" stroke-linejoin="round" textLength="303.38" lengthAdjust="spacingAndGlyphs">DRG neurons</text>
<text x="639.19" y="1751.40" font-size="32.97" stroke="#000" stroke-width="1.0" stroke-linejoin="round" textLength="83.29" lengthAdjust="spacingAndGlyphs">Male</text>
<text x="740.25" y="1751.40" font-size="32.97" stroke="#000" stroke-width="1.0" stroke-linejoin="round" textLength="126.00" lengthAdjust="spacingAndGlyphs">Female</text>
</g>
</svg>
</body></html>
